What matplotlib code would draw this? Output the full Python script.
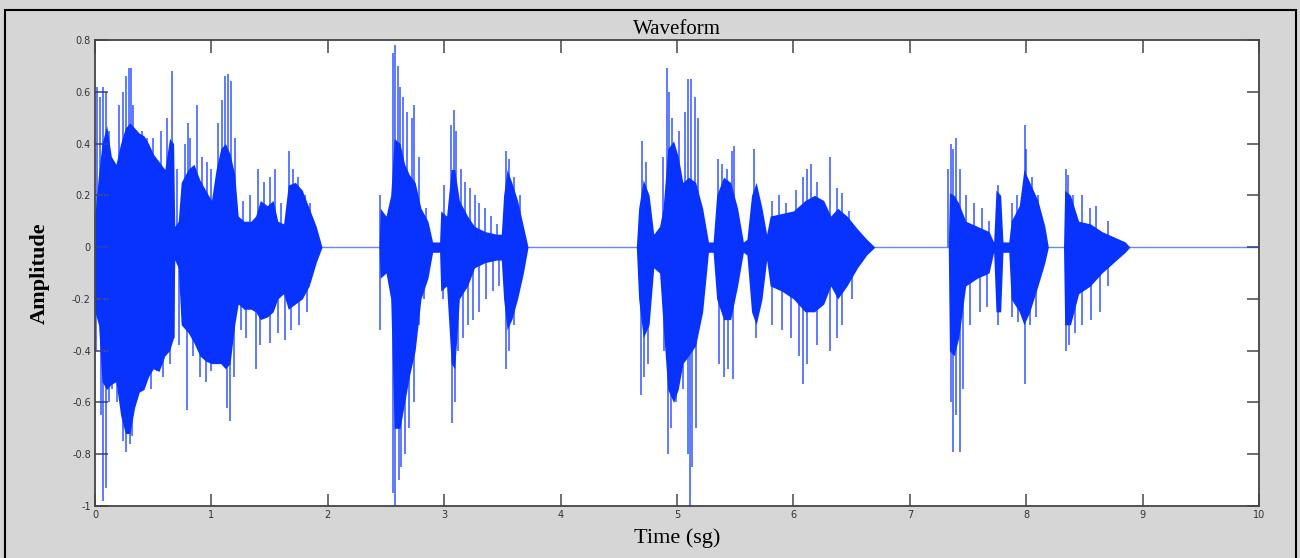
import numpy as np
import matplotlib.pyplot as plt
from matplotlib.patches import Rectangle

# envelope of the dense part of the signal (time in s, upper, lower)
body_t = [0.00, 0.03, 0.06, 0.10, 0.14, 0.18, 0.22, 0.26, 0.30, 0.34, 0.38, 0.42, 0.46, 0.50,
          0.55, 0.60, 0.64, 0.675, 0.685, 0.715, 0.74, 0.80, 0.85, 0.90, 0.95, 1.00, 1.04, 1.08,
          1.12, 1.16, 1.20, 1.23, 1.28, 1.34, 1.38, 1.42, 1.48, 1.53, 1.57, 1.62, 1.66, 1.72,
          1.78, 1.84, 1.90, 1.95, 2.44, 2.45, 2.50, 2.54, 2.57, 2.62, 2.66, 2.70, 2.75, 2.80,
          2.86, 2.90, 2.96, 2.97, 3.02, 3.06, 3.09, 3.13, 3.20, 3.26, 3.35, 3.45, 3.49, 3.51,
          3.54, 3.58, 3.63, 3.68, 3.72, 4.65, 4.67, 4.71, 4.76, 4.80, 4.85, 4.88, 4.92, 4.97,
          5.01, 5.05, 5.10, 5.16, 5.22, 5.27, 5.31, 5.34, 5.40, 5.46, 5.52, 5.57, 5.60, 5.64,
          5.68, 5.73, 5.77, 5.80, 5.90, 6.00, 6.10, 6.18, 6.26, 6.32, 6.38, 6.46, 6.55, 6.63,
          6.70, 7.33, 7.34, 7.38, 7.42, 7.48, 7.58, 7.68, 7.72, 7.74, 7.78, 7.80, 7.85, 7.87,
          7.94, 7.98, 8.03, 8.10, 8.16, 8.19, 8.32, 8.33, 8.38, 8.45, 8.55, 8.65, 8.75, 8.85,
          8.89, 10.0]
body_hi = [0.13, 0.28, 0.40, 0.47, 0.35, 0.32, 0.40, 0.46, 0.48, 0.46, 0.44, 0.43, 0.40, 0.36,
           0.33, 0.30, 0.42, 0.40, 0.08, 0.10, 0.25, 0.30, 0.32, 0.26, 0.22, 0.18, 0.30, 0.38,
           0.40, 0.36, 0.28, 0.12, 0.10, 0.10, 0.12, 0.18, 0.16, 0.18, 0.10, 0.09, 0.24, 0.25,
           0.22, 0.15, 0.08, 0.00, 0.00, 0.15, 0.12, 0.20, 0.42, 0.40, 0.32, 0.28, 0.25, 0.15,
           0.10, 0.02, 0.02, 0.14, 0.12, 0.30, 0.30, 0.18, 0.12, 0.08, 0.06, 0.05, 0.05, 0.20,
           0.30, 0.25, 0.18, 0.08, 0.00, 0.00, 0.15, 0.26, 0.20, 0.05, 0.08, 0.15, 0.38, 0.41,
           0.35, 0.25, 0.27, 0.25, 0.15, 0.02, 0.02, 0.20, 0.27, 0.25, 0.15, 0.02, 0.03, 0.20,
           0.25, 0.15, 0.05, 0.12, 0.13, 0.14, 0.18, 0.20, 0.18, 0.12, 0.15, 0.12, 0.07, 0.03,
           0.00, 0.00, 0.21, 0.20, 0.17, 0.10, 0.08, 0.06, 0.02, 0.22, 0.20, 0.02, 0.02, 0.10,
           0.16, 0.30, 0.25, 0.18, 0.08, 0.00, 0.00, 0.22, 0.20, 0.10, 0.09, 0.06, 0.04, 0.02,
           0.00, 0.00]
body_lo = [-0.25, -0.30, -0.52, -0.55, -0.53, -0.52, -0.65, -0.72, -0.72, -0.62, -0.56, -0.55,
           -0.50, -0.47, -0.48, -0.42, -0.40, -0.35, -0.05, -0.08, -0.30, -0.33, -0.37, -0.42,
           -0.44, -0.45, -0.45, -0.45, -0.47, -0.45, -0.30, -0.22, -0.24, -0.24, -0.25, -0.28,
           -0.27, -0.25, -0.20, -0.18, -0.24, -0.22, -0.20, -0.15, -0.06, 0.00, 0.00, -0.12,
           -0.10, -0.20, -0.70, -0.70, -0.60, -0.50, -0.40, -0.20, -0.12, -0.02, -0.02, -0.17,
           -0.15, -0.45, -0.47, -0.20, -0.15, -0.08, -0.06, -0.05, -0.05, -0.20, -0.32, -0.28,
           -0.20, -0.10, 0.00, 0.00, -0.20, -0.35, -0.30, -0.08, -0.10, -0.30, -0.55, -0.60,
           -0.55, -0.45, -0.42, -0.38, -0.25, -0.02, -0.02, -0.20, -0.28, -0.28, -0.15, -0.02,
           -0.03, -0.25, -0.30, -0.20, -0.05, -0.15, -0.17, -0.20, -0.25, -0.25, -0.22, -0.15,
           -0.20, -0.15, -0.08, -0.03, 0.00, 0.00, -0.40, -0.42, -0.35, -0.15, -0.12, -0.10,
           -0.02, -0.25, -0.25, -0.02, -0.02, -0.20, -0.25, -0.30, -0.25, -0.15, -0.06, 0.00,
           0.00, -0.30, -0.30, -0.18, -0.15, -0.10, -0.06, -0.02, 0.00, 0.00]

# single peaks sticking out of the envelope
up_t = [0.02, 0.04, 0.07, 0.09, 0.12, 0.15, 0.21, 0.24, 0.27, 0.29, 0.31, 0.33, 0.40, 0.45,
        0.50, 0.57, 0.62, 0.66, 0.70, 0.77, 0.80, 0.82, 0.88, 0.92, 0.96, 1.00, 1.06, 1.09,
        1.12, 1.14, 1.17, 1.20, 1.27, 1.33, 1.40, 1.45, 1.50, 1.55, 1.60, 1.67, 1.70, 1.74,
        1.80, 1.85, 2.45, 2.56, 2.58, 2.60, 2.62, 2.65, 2.68, 2.72, 2.74, 2.78, 2.84, 3.00,
        3.06, 3.08, 3.10, 3.14, 3.18, 3.22, 3.26, 3.30, 3.35, 3.40, 3.45, 3.53, 3.56, 3.60,
        3.65, 4.70, 4.73, 4.88, 4.91, 4.93, 4.96, 5.02, 5.07, 5.09, 5.12, 5.15, 5.18, 5.35,
        5.39, 5.43, 5.47, 5.49, 5.66, 5.82, 5.88, 5.94, 6.02, 6.08, 6.12, 6.15, 6.20, 6.31,
        6.37, 6.42, 6.48, 7.33, 7.35, 7.37, 7.40, 7.43, 7.48, 7.55, 7.62, 7.68, 7.76, 7.88,
        7.92, 7.99, 8.00, 8.05, 8.10, 8.34, 8.36, 8.40, 8.48, 8.55, 8.60, 8.70]
up_v = [0.62, 0.58, 0.62, 0.60, 0.45, 0.30, 0.55, 0.60, 0.66, 0.69, 0.69, 0.55, 0.45, 0.42,
        0.42, 0.45, 0.50, 0.68, 0.30, 0.40, 0.48, 0.42, 0.55, 0.35, 0.33, 0.30, 0.48, 0.57,
        0.66, 0.67, 0.64, 0.42, 0.18, 0.20, 0.30, 0.25, 0.27, 0.30, 0.17, 0.37, 0.30, 0.27,
        0.20, 0.17, 0.20, 0.75, 0.78, 0.70, 0.62, 0.58, 0.52, 0.50, 0.55, 0.35, 0.15, 0.24,
        0.47, 0.53, 0.45, 0.30, 0.25, 0.23, 0.20, 0.17, 0.15, 0.12, 0.09, 0.37, 0.34, 0.27,
        0.20, 0.41, 0.33, 0.35, 0.69, 0.60, 0.50, 0.45, 0.52, 0.65, 0.65, 0.58, 0.50, 0.34,
        0.32, 0.30, 0.37, 0.39, 0.38, 0.18, 0.20, 0.17, 0.22, 0.27, 0.30, 0.32, 0.25, 0.35,
        0.23, 0.21, 0.14, 0.30, 0.40, 0.38, 0.42, 0.30, 0.20, 0.17, 0.15, 0.10, 0.24, 0.17,
        0.20, 0.47, 0.38, 0.27, 0.20, 0.30, 0.28, 0.20, 0.20, 0.15, 0.16, 0.10]

down_t = [0.01, 0.05, 0.07, 0.09, 0.12, 0.15, 0.19, 0.24, 0.27, 0.30, 0.32, 0.36, 0.42, 0.48,
          0.53, 0.58, 0.64, 0.68, 0.72, 0.79, 0.84, 0.90, 0.95, 1.00, 1.05, 1.13, 1.16, 1.19,
          1.25, 1.30, 1.38, 1.42, 1.50, 1.57, 1.63, 1.68, 1.75, 1.82, 2.45, 2.56, 2.58, 2.61,
          2.63, 2.66, 2.70, 2.74, 2.78, 2.83, 2.99, 3.07, 3.09, 3.12, 3.16, 3.20, 3.25, 3.30,
          3.36, 3.42, 3.47, 3.53, 3.56, 3.60, 4.69, 4.72, 4.75, 4.89, 4.92, 4.95, 4.99, 5.05,
          5.09, 5.11, 5.13, 5.16, 5.36, 5.40, 5.44, 5.48, 5.68, 5.82, 5.90, 5.98, 6.05, 6.08,
          6.12, 6.20, 6.31, 6.37, 6.42, 6.50, 7.35, 7.37, 7.40, 7.43, 7.46, 7.52, 7.60, 7.66,
          7.76, 7.88, 7.93, 7.99, 8.03, 8.08, 8.34, 8.37, 8.42, 8.48, 8.56, 8.63, 8.70]
down_v = [-0.40, -0.65, -0.98, -0.93, -0.60, -0.55, -0.60, -0.75, -0.79, -0.76, -0.73, -0.58,
          -0.52, -0.55, -0.48, -0.50, -0.45, -0.35, -0.38, -0.63, -0.42, -0.50, -0.52, -0.48,
          -0.45, -0.62, -0.67, -0.50, -0.32, -0.35, -0.47, -0.38, -0.37, -0.33, -0.36, -0.32,
          -0.30, -0.25, -0.32, -0.95, -1.00, -0.90, -0.85, -0.80, -0.70, -0.60, -0.30, -0.20,
          -0.20, -0.68, -0.60, -0.40, -0.35, -0.30, -0.28, -0.25, -0.20, -0.17, -0.15, -0.47,
          -0.40, -0.30, -0.57, -0.50, -0.45, -0.40, -0.80, -0.70, -0.60, -0.55, -0.80, -1.00,
          -0.85, -0.70, -0.45, -0.50, -0.47, -0.51, -0.35, -0.30, -0.32, -0.35, -0.42, -0.53,
          -0.45, -0.38, -0.40, -0.35, -0.30, -0.20, -0.60, -0.79, -0.65, -0.79, -0.55, -0.30,
          -0.25, -0.23, -0.30, -0.27, -0.29, -0.53, -0.30, -0.27, -0.40, -0.38, -0.33, -0.30,
          -0.28, -0.25, -0.15]

xticks = list(range(0, 11))
yticks = [-1, -0.8, -0.6, -0.4, -0.2, 0, 0.2, 0.4, 0.6, 0.8]
ytick_labels = ["-1", "-0.8", "-0.6", "-0.4", "-0.2", "0", "0.2", "0.4", "0.6", "0.8"]

blue = "#0833ff"
serif = ["Liberation Serif", "DejaVu Serif"]

fig = plt.figure(figsize=(13, 5.58), dpi=100, facecolor="#d6d6d6")
fig.patches.append(Rectangle((5 / 1300, -0.01), 1291 / 1300, 1 - 10 / 558 + 0.01,
                             transform=fig.transFigure, fill=False, edgecolor="black",
                             linewidth=1.5))
ax = fig.add_axes([0.0731, 0.0932, 0.8954, 0.8351])

ax.axhline(0, color=blue, lw=1.0, alpha=0.6)
ax.fill_between(body_t, body_lo, body_hi, color=blue, lw=0)
ax.vlines(up_t, 0, up_v, color=blue, lw=1.3, alpha=0.7)
ax.vlines(down_t, down_v, 0, color=blue, lw=1.3, alpha=0.7)

ax.set_xlim(0, 10)
ax.set_ylim(-1, 0.8)
ax.set_xticks(xticks)
ax.set_yticks(yticks)
ax.set_yticklabels(ytick_labels)
ax.tick_params(direction="in", length=9, width=1.2, color="#555555", labelsize=7,
               labelcolor="#333333", top=True, right=True, pad=3)
for s in ax.spines.values():
    s.set_color("#444444")
    s.set_linewidth(1.3)

ax.set_title("Waveform", family=serif, fontsize=15, pad=4)
ax.set_xlabel("Time (sg)", family=serif, fontsize=16, labelpad=6)
ax.set_ylabel("Amplitude", family=serif, fontsize=16, fontweight="bold", labelpad=16)

fig.savefig("out.png", dpi=100, facecolor=fig.get_facecolor())
